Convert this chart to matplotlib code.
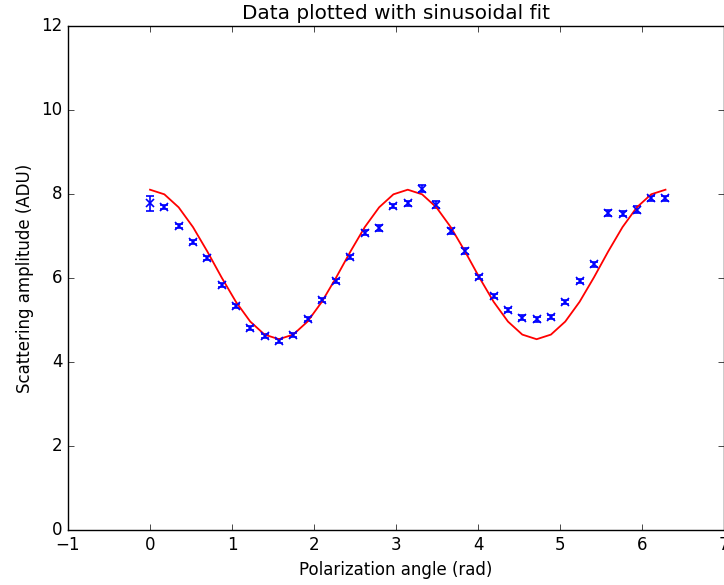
import numpy as np
import matplotlib
matplotlib.use('Agg')
import matplotlib.pyplot as plt

# polarization angles, 10 degree steps
angle = np.radians(np.arange(0, 361, 10))

amplitude = [7.79, 7.70, 7.25, 6.87, 6.49, 5.84, 5.34, 4.82, 4.63, 4.51,
             4.65, 5.03, 5.48, 5.94, 6.51, 7.08, 7.20, 7.72, 7.79, 8.13,
             7.75, 7.13, 6.65, 6.03, 5.58, 5.25, 5.06, 5.02, 5.08, 5.44,
             5.94, 6.34, 7.56, 7.54, 7.63, 7.91, 7.91]
amp_err = [0.18, 0.05, 0.05, 0.05, 0.05, 0.05, 0.05, 0.05, 0.05, 0.05,
           0.05, 0.05, 0.05, 0.05, 0.05, 0.06, 0.08, 0.05, 0.06, 0.08,
           0.08, 0.07, 0.06, 0.05, 0.05, 0.05, 0.06, 0.06, 0.05, 0.05,
           0.05, 0.06, 0.07, 0.06, 0.08, 0.06, 0.06]
fit = [8.11, 8.00, 7.69, 7.22, 6.64, 6.02, 5.44, 4.97, 4.66, 4.55,
       4.66, 4.97, 5.44, 6.02, 6.64, 7.22, 7.69, 8.00, 8.11, 8.00,
       7.69, 7.22, 6.64, 6.02, 5.44, 4.97, 4.66, 4.55, 4.66, 4.97,
       5.44, 6.02, 6.64, 7.22, 7.69, 8.00, 8.11]

plt.style.use('classic')
plt.rcParams['font.family'] = ['DejaVu Sans']

fig = plt.figure(figsize=(7.24, 5.85), dpi=100, facecolor='white')
# the original was cropped on the right, so the axes run off the edge
ax = fig.add_axes([0.0939, 0.0935, 0.9065, 0.8615])

ax.errorbar(angle, amplitude, yerr=amp_err, fmt='bx', ecolor='b',
            capsize=3, mew=1.2, elinewidth=1.2, capthick=1.2)
ax.plot(angle, fit, 'r-', lw=1.3)

ax.set_xlim(-1, 7)
ax.set_ylim(0, 12)
ax.set_xlabel('Polarization angle (rad)')
ax.set_ylabel('Scattering amplitude (ADU)')
ax.set_title('Data plotted with sinusoidal fit')

fig.savefig('out.png', dpi=100, facecolor='white')
